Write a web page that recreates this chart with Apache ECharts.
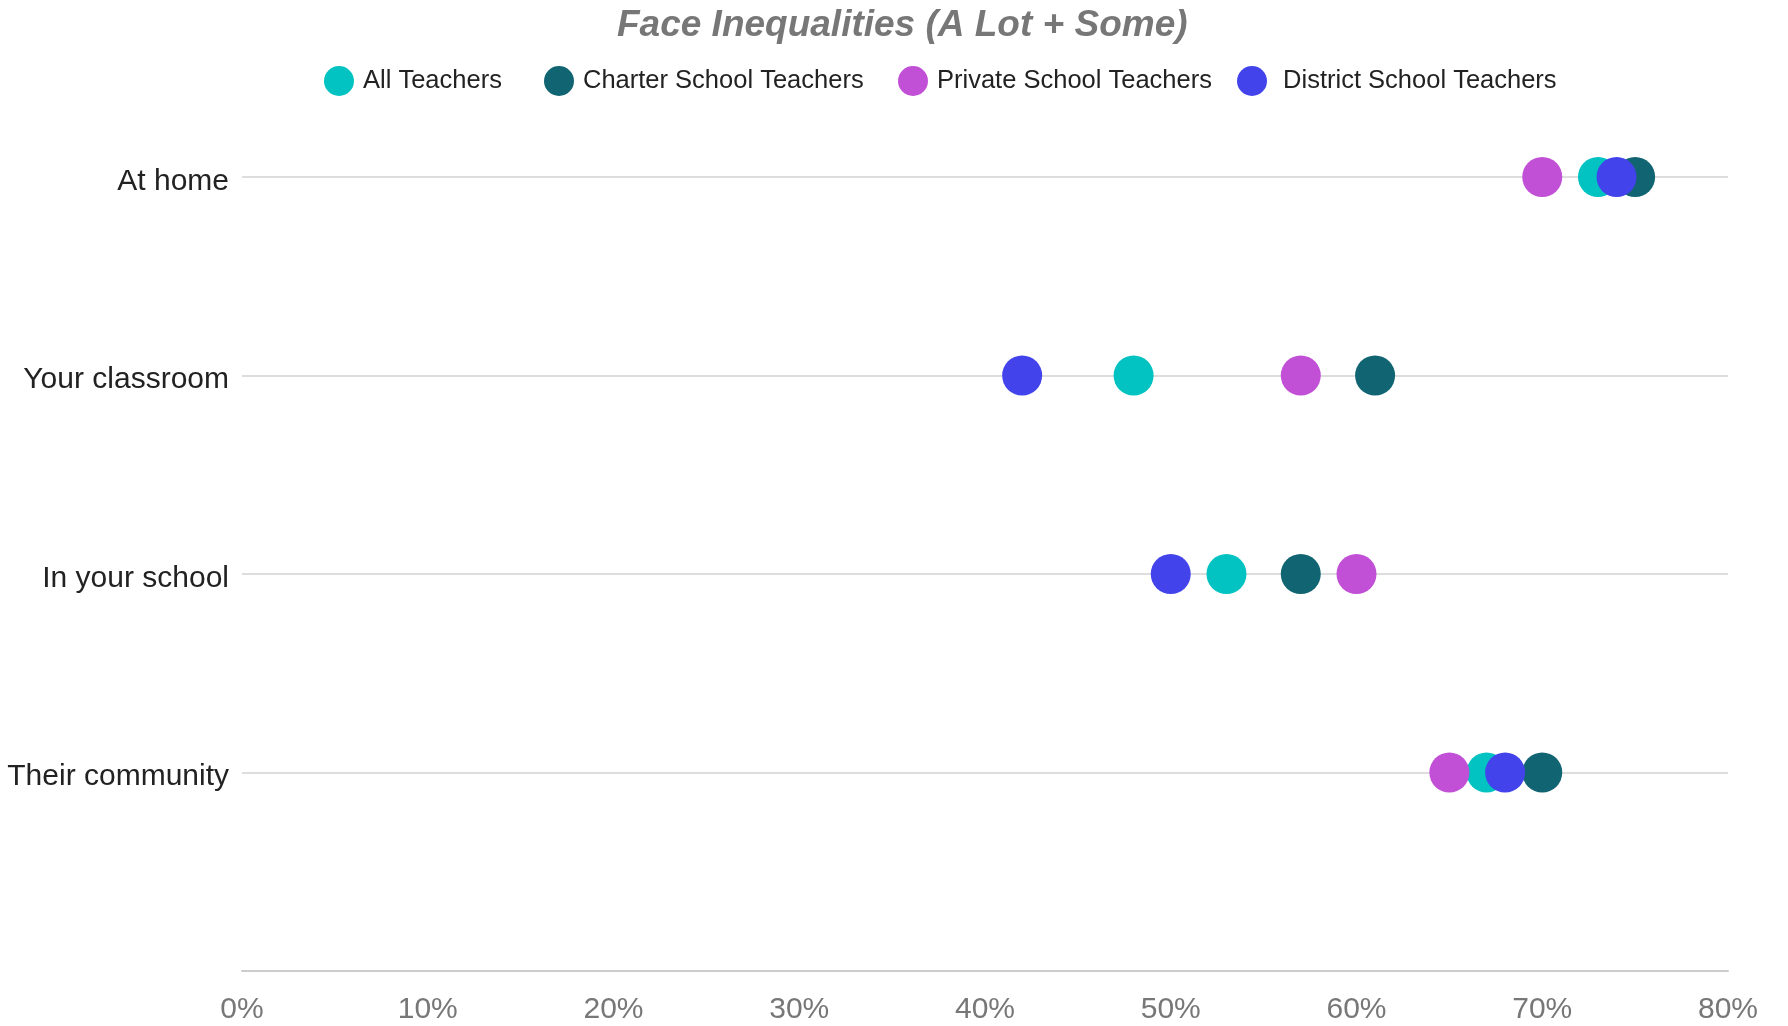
<!DOCTYPE html>
<html>
<head>
<meta charset="utf-8">
<script src="https://cdn.jsdelivr.net/npm/echarts@6/dist/echarts.min.js"></script>
<style>html,body{margin:0;padding:0;background:#fff}#c{width:1788px;height:1026px}</style>
</head>
<body>
<div id="c"></div>
<script>
const categories = ["At home", "Your classroom", "In your school", "Their community", ""];
const seriesNames = ["All Teachers", "Charter School Teachers", "Private School Teachers", "District School Teachers"];
const allTeachers = [73, 48, 53, 67];
const charterTeachers = [75, 61, 57, 70];
const privateTeachers = [70, 57, 60, 65];
const districtTeachers = [74, 42, 50, 68];
const xTicks = [0, 10, 20, 30, 40, 50, 60, 70, 80];
const colors = ["#02C2C2", "#116471", "#C150D6", "#4343EB"];

const values = [allTeachers, charterTeachers, privateTeachers, districtTeachers];
const FONT = "Liberation Sans, Arial, sans-serif";
const legendLefts = [319, 539, 893, 1232];

const chart = echarts.init(document.getElementById('c'));
chart.setOption({
  animation: false,
  title: {
    text: "Face Inequalities (A Lot + Some)",
    left: 612, top: 2,
    textStyle: { fontFamily: FONT, fontSize: 37, fontWeight: 'bold', fontStyle: 'italic', color: '#777777' }
  },
  legend: seriesNames.map(function (n, i) {
    return {
      data: [n],
      left: legendLefts[i], top: 61,
      icon: 'circle', itemWidth: 30, itemHeight: 30,
      formatter: function (name) { return name === "District School Teachers" ? " " + name : name; },
      textStyle: { fontFamily: FONT, fontSize: 25.5, color: '#222222', padding: [0, 0, 0, 4] }
    };
  }),
  grid: { left: 242, right: 60, top: 177, bottom: 55, containLabel: false },
  xAxis: {
    type: 'value', min: 0, max: 80, interval: 10,
    axisLine: { show: true, lineStyle: { color: '#cccccc', width: 2 } },
    axisTick: { show: false },
    splitLine: { show: false },
    axisLabel: {
      margin: 24, fontFamily: FONT, fontSize: 30, color: '#777777',
      formatter: function (v) { return xTicks.indexOf(v) >= 0 ? v + '%' : ''; }
    }
  },
  yAxis: {
    type: 'category', data: categories, inverse: true, boundaryGap: false,
    axisLine: { show: false }, axisTick: { show: false },
    splitLine: { show: true, interval: 0, lineStyle: { color: '#dddddd', width: 2 } },
    axisLabel: {
      interval: 0, margin: 13,
      formatter: function (v) { return v ? '{a|' + v + '}' : ''; },
      rich: { a: { fontFamily: FONT, fontSize: 30, color: '#222222', padding: [9, 0, 0, 0] } }
    }
  },
  series: seriesNames.map(function (name, i) {
    return {
      name: name, type: 'scatter', symbol: 'circle', symbolSize: 40,
      itemStyle: { color: colors[i], opacity: 1 },
      data: values[i].map(function (v, j) { return [v, categories[j]]; }),
      z: 2 + i
    };
  })
});
</script>
</body>
</html>
